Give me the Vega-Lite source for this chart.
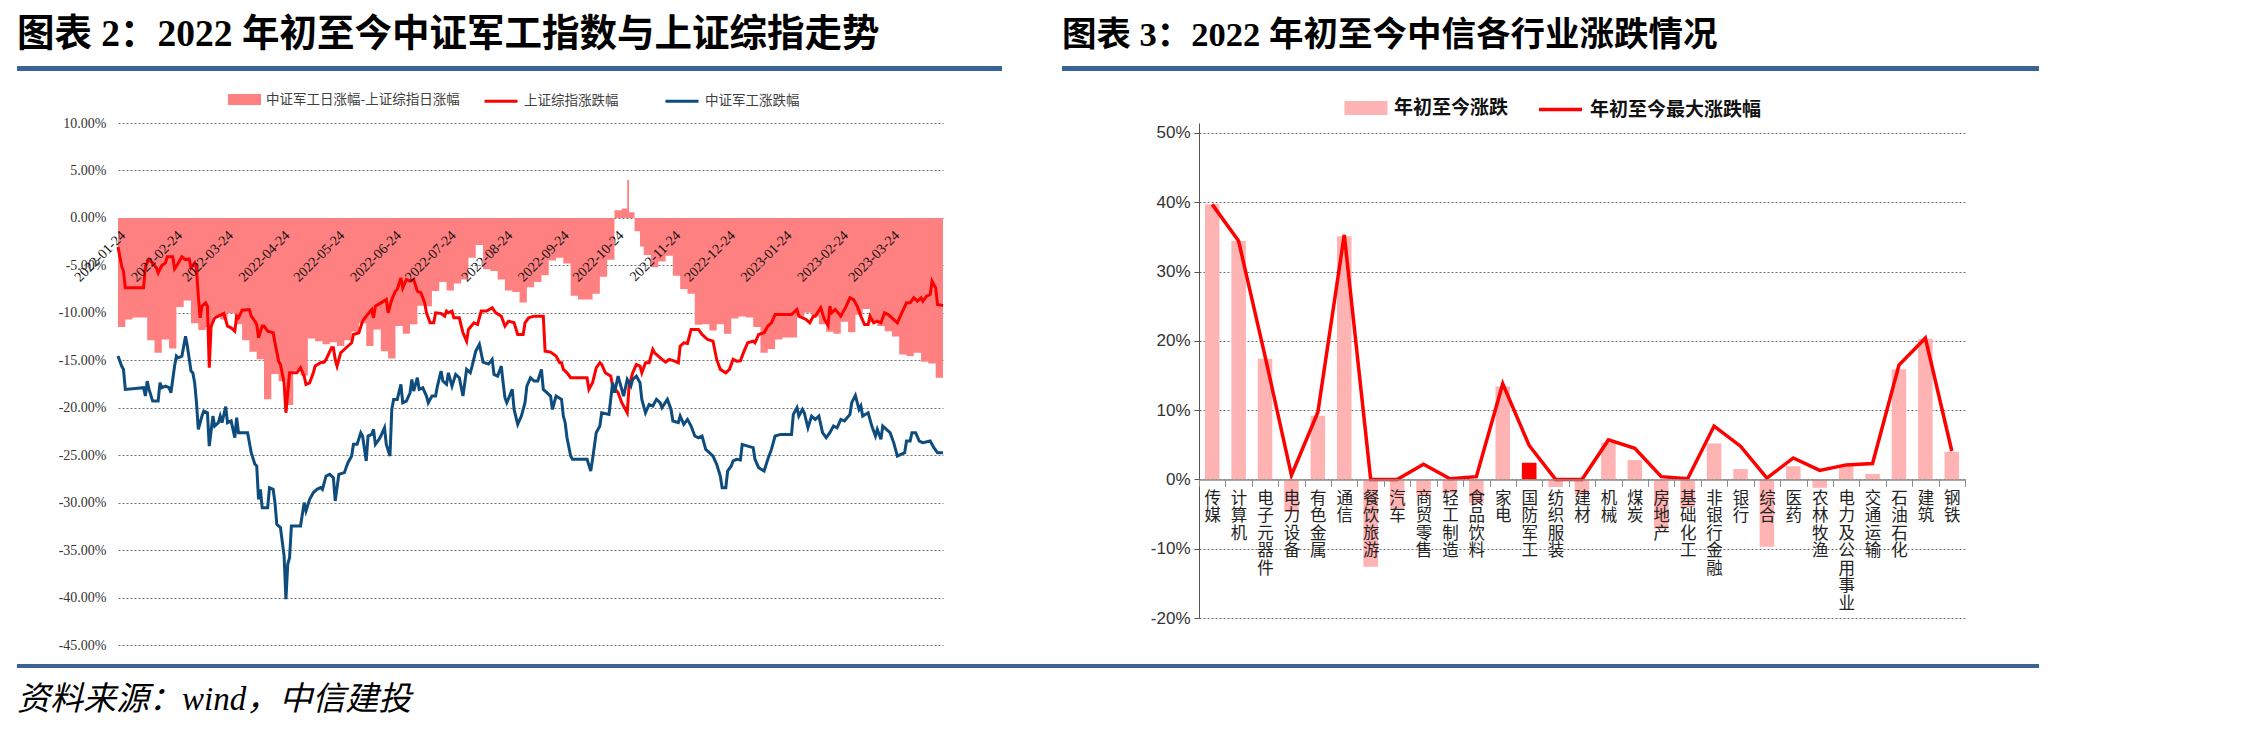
{
  "$schema": "https://vega.github.io/schema/vega-lite/v6.json",
  "background": "white",
  "padding": {"left": 17, "top": 15, "right": 0, "bottom": 0},
  "config": {"view": {"stroke": null}, "font": "Noto Sans CJK SC"},
  "datasets": {
    "sh": [
      {"d":"2022-01-24","v":-3.05},{"d":"2022-01-26","v":-5.09},{"d":"2022-01-27","v":-5.6},{"d":"2022-01-28","v":-7.37},{"d":"2022-02-07","v":-7.37},{"d":"2022-02-08","v":-5.09},{"d":"2022-02-10","v":-4.39},{"d":"2022-02-12","v":-4.74},{"d":"2022-02-14","v":-5.26},{"d":"2022-02-15","v":-5.79},{"d":"2022-02-17","v":-5.02},{"d":"2022-02-19","v":-4.74},{"d":"2022-02-20","v":-4.1},{"d":"2022-02-23","v":-4.1},{"d":"2022-02-24","v":-5.37},{"d":"2022-02-25","v":-5.09},{"d":"2022-02-28","v":-4.1},{"d":"2022-03-02","v":-4.39},{"d":"2022-03-04","v":-4.32},{"d":"2022-03-05","v":-5.26},{"d":"2022-03-07","v":-4.74},{"d":"2022-03-08","v":-5.26},{"d":"2022-03-09","v":-8.25},{"d":"2022-03-10","v":-10.53},{"d":"2022-03-11","v":-9.3},{"d":"2022-03-13","v":-8.95},{"d":"2022-03-14","v":-9.3},{"d":"2022-03-15","v":-15.79},{"d":"2022-03-16","v":-11.4},{"d":"2022-03-18","v":-10.53},{"d":"2022-03-20","v":-10.35},{"d":"2022-03-23","v":-10.07},{"d":"2022-03-25","v":-11.4},{"d":"2022-03-27","v":-11.58},{"d":"2022-03-29","v":-11.93},{"d":"2022-03-30","v":-10.35},{"d":"2022-03-31","v":-10.53},{"d":"2022-04-02","v":-9.72},{"d":"2022-04-06","v":-9.65},{"d":"2022-04-07","v":-10.35},{"d":"2022-04-09","v":-10.88},{"d":"2022-04-10","v":-11.23},{"d":"2022-04-11","v":-12.63},{"d":"2022-04-13","v":-11.4},{"d":"2022-04-14","v":-11.4},{"d":"2022-04-16","v":-11.93},{"d":"2022-04-19","v":-12.1},{"d":"2022-04-20","v":-13.16},{"d":"2022-04-22","v":-15.09},{"d":"2022-04-23","v":-15.44},{"d":"2022-04-25","v":-17.37},{"d":"2022-04-26","v":-20.53},{"d":"2022-04-27","v":-18.42},{"d":"2022-04-28","v":-16.32},{"d":"2022-05-02","v":-16.32},{"d":"2022-05-04","v":-15.79},{"d":"2022-05-06","v":-16.67},{"d":"2022-05-07","v":-17.54},{"d":"2022-05-09","v":-17.37},{"d":"2022-05-11","v":-16.32},{"d":"2022-05-12","v":-15.61},{"d":"2022-05-15","v":-15.26},{"d":"2022-05-17","v":-15.19},{"d":"2022-05-18","v":-14.91},{"d":"2022-05-21","v":-13.68},{"d":"2022-05-22","v":-13.68},{"d":"2022-05-23","v":-14.91},{"d":"2022-05-24","v":-15.61},{"d":"2022-05-26","v":-14.21},{"d":"2022-05-29","v":-13.68},{"d":"2022-06-01","v":-13.16},{"d":"2022-06-02","v":-12.28},{"d":"2022-06-05","v":-12.1},{"d":"2022-06-07","v":-10.88},{"d":"2022-06-09","v":-10.35},{"d":"2022-06-12","v":-9.65},{"d":"2022-06-13","v":-10.53},{"d":"2022-06-14","v":-9.3},{"d":"2022-06-17","v":-8.95},{"d":"2022-06-20","v":-8.6},{"d":"2022-06-21","v":-10},{"d":"2022-06-23","v":-8.6},{"d":"2022-06-25","v":-7.72},{"d":"2022-06-26","v":-7.54},{"d":"2022-06-28","v":-6.32},{"d":"2022-06-29","v":-7.37},{"d":"2022-07-01","v":-6.49},{"d":"2022-07-03","v":-6.67},{"d":"2022-07-05","v":-6.49},{"d":"2022-07-07","v":-7.72},{"d":"2022-07-09","v":-7.89},{"d":"2022-07-11","v":-8.95},{"d":"2022-07-12","v":-10},{"d":"2022-07-14","v":-11.05},{"d":"2022-07-16","v":-11.05},{"d":"2022-07-17","v":-10},{"d":"2022-07-20","v":-10.07},{"d":"2022-07-22","v":-10.35},{"d":"2022-07-23","v":-9.82},{"d":"2022-07-24","v":-10},{"d":"2022-07-26","v":-9.82},{"d":"2022-07-27","v":-10.53},{"d":"2022-07-30","v":-10.53},{"d":"2022-08-01","v":-12.1},{"d":"2022-08-03","v":-12.98},{"d":"2022-08-04","v":-11.75},{"d":"2022-08-07","v":-11.05},{"d":"2022-08-09","v":-11.23},{"d":"2022-08-11","v":-9.82},{"d":"2022-08-14","v":-9.82},{"d":"2022-08-17","v":-9.47},{"d":"2022-08-19","v":-10},{"d":"2022-08-22","v":-10.35},{"d":"2022-08-24","v":-11.4},{"d":"2022-08-26","v":-10.88},{"d":"2022-08-29","v":-11.05},{"d":"2022-08-31","v":-12.28},{"d":"2022-09-03","v":-12.28},{"d":"2022-09-04","v":-11.05},{"d":"2022-09-06","v":-10.53},{"d":"2022-09-09","v":-10.35},{"d":"2022-09-14","v":-10.35},{"d":"2022-09-15","v":-14.04},{"d":"2022-09-18","v":-14.14},{"d":"2022-09-21","v":-14.56},{"d":"2022-09-23","v":-15.26},{"d":"2022-09-24","v":-15.26},{"d":"2022-09-25","v":-15.96},{"d":"2022-09-27","v":-16.32},{"d":"2022-09-29","v":-16.84},{"d":"2022-10-08","v":-16.84},{"d":"2022-10-09","v":-18.07},{"d":"2022-10-11","v":-17.37},{"d":"2022-10-13","v":-15.79},{"d":"2022-10-15","v":-15.26},{"d":"2022-10-16","v":-15.44},{"d":"2022-10-18","v":-16.32},{"d":"2022-10-21","v":-16.67},{"d":"2022-10-22","v":-17.72},{"d":"2022-10-25","v":-18.42},{"d":"2022-10-27","v":-19.47},{"d":"2022-10-28","v":-19.82},{"d":"2022-10-30","v":-20.53},{"d":"2022-10-31","v":-17.72},{"d":"2022-11-02","v":-16.32},{"d":"2022-11-04","v":-15.44},{"d":"2022-11-06","v":-15.61},{"d":"2022-11-07","v":-16.32},{"d":"2022-11-09","v":-15.26},{"d":"2022-11-11","v":-15.26},{"d":"2022-11-13","v":-13.86},{"d":"2022-11-14","v":-14.21},{"d":"2022-11-16","v":-14.56},{"d":"2022-11-18","v":-14.91},{"d":"2022-11-20","v":-15.19},{"d":"2022-11-22","v":-14.91},{"d":"2022-11-25","v":-15.09},{"d":"2022-11-27","v":-15.26},{"d":"2022-11-28","v":-13.51},{"d":"2022-11-30","v":-13.16},{"d":"2022-12-02","v":-13.23},{"d":"2022-12-04","v":-11.75},{"d":"2022-12-08","v":-11.75},{"d":"2022-12-10","v":-12.28},{"d":"2022-12-13","v":-12.81},{"d":"2022-12-16","v":-12.98},{"d":"2022-12-18","v":-14.91},{"d":"2022-12-20","v":-15.96},{"d":"2022-12-23","v":-16.32},{"d":"2022-12-25","v":-15.96},{"d":"2022-12-27","v":-14.91},{"d":"2022-12-29","v":-15.09},{"d":"2022-12-31","v":-15.05},{"d":"2023-01-02","v":-14.04},{"d":"2023-01-04","v":-13.16},{"d":"2023-01-07","v":-12.98},{"d":"2023-01-08","v":-13.16},{"d":"2023-01-10","v":-12.28},{"d":"2023-01-13","v":-12.1},{"d":"2023-01-15","v":-11.4},{"d":"2023-01-17","v":-11.05},{"d":"2023-01-19","v":-10.18},{"d":"2023-01-28","v":-10.18},{"d":"2023-01-30","v":-9.82},{"d":"2023-01-31","v":-9.65},{"d":"2023-02-01","v":-10.35},{"d":"2023-02-05","v":-10.7},{"d":"2023-02-07","v":-11.05},{"d":"2023-02-09","v":-10.35},{"d":"2023-02-10","v":-10.35},{"d":"2023-02-13","v":-9.47},{"d":"2023-02-15","v":-10.7},{"d":"2023-02-17","v":-11.33},{"d":"2023-02-18","v":-9.3},{"d":"2023-02-19","v":-10},{"d":"2023-02-21","v":-9.65},{"d":"2023-02-24","v":-10.35},{"d":"2023-02-27","v":-9.3},{"d":"2023-03-01","v":-8.42},{"d":"2023-03-03","v":-8.6},{"d":"2023-03-05","v":-9.3},{"d":"2023-03-07","v":-10.35},{"d":"2023-03-09","v":-11.23},{"d":"2023-03-11","v":-11.23},{"d":"2023-03-12","v":-10.35},{"d":"2023-03-14","v":-11.05},{"d":"2023-03-16","v":-10.88},{"d":"2023-03-18","v":-11.05},{"d":"2023-03-20","v":-10},{"d":"2023-03-22","v":-10.18},{"d":"2023-03-24","v":-10.53},{"d":"2023-03-27","v":-11.05},{"d":"2023-03-29","v":-10.18},{"d":"2023-04-01","v":-8.95},{"d":"2023-04-03","v":-8.95},{"d":"2023-04-05","v":-8.42},{"d":"2023-04-07","v":-8.77},{"d":"2023-04-09","v":-8.42},{"d":"2023-04-10","v":-8.77},{"d":"2023-04-12","v":-8.25},{"d":"2023-04-14","v":-8.07},{"d":"2023-04-15","v":-6.67},{"d":"2023-04-17","v":-7.37},{"d":"2023-04-18","v":-9.12},{"d":"2023-04-21","v":-9.23}
    ],
    "jg": [
      {"d":"2022-01-24","v":-14.56},{"d":"2022-01-26","v":-15.61},{"d":"2022-01-27","v":-15.96},{"d":"2022-01-28","v":-18.07},{"d":"2022-02-07","v":-17.89},{"d":"2022-02-08","v":-18.77},{"d":"2022-02-09","v":-17.19},{"d":"2022-02-10","v":-18.07},{"d":"2022-02-12","v":-19.3},{"d":"2022-02-15","v":-19.3},{"d":"2022-02-16","v":-17.37},{"d":"2022-02-17","v":-17.89},{"d":"2022-02-19","v":-17.72},{"d":"2022-02-21","v":-17.89},{"d":"2022-02-22","v":-18.42},{"d":"2022-02-24","v":-15.61},{"d":"2022-02-25","v":-14.56},{"d":"2022-02-26","v":-14.74},{"d":"2022-02-28","v":-14.56},{"d":"2022-03-02","v":-12.46},{"d":"2022-03-03","v":-13.51},{"d":"2022-03-05","v":-16.14},{"d":"2022-03-06","v":-16.32},{"d":"2022-03-07","v":-17.37},{"d":"2022-03-08","v":-19.47},{"d":"2022-03-09","v":-22.28},{"d":"2022-03-11","v":-20.88},{"d":"2022-03-12","v":-20.35},{"d":"2022-03-14","v":-20.53},{"d":"2022-03-15","v":-24.04},{"d":"2022-03-17","v":-20.88},{"d":"2022-03-18","v":-21.93},{"d":"2022-03-20","v":-21.58},{"d":"2022-03-21","v":-20.88},{"d":"2022-03-22","v":-21.58},{"d":"2022-03-24","v":-19.89},{"d":"2022-03-25","v":-21.58},{"d":"2022-03-27","v":-21.4},{"d":"2022-03-28","v":-22.28},{"d":"2022-03-29","v":-23.16},{"d":"2022-03-30","v":-21.05},{"d":"2022-03-31","v":-22.63},{"d":"2022-04-05","v":-22.63},{"d":"2022-04-07","v":-24.74},{"d":"2022-04-09","v":-25.96},{"d":"2022-04-10","v":-26.14},{"d":"2022-04-11","v":-29.65},{"d":"2022-04-12","v":-28.6},{"d":"2022-04-13","v":-30.53},{"d":"2022-04-16","v":-30.53},{"d":"2022-04-17","v":-28.42},{"d":"2022-04-19","v":-28.6},{"d":"2022-04-20","v":-30},{"d":"2022-04-21","v":-32.28},{"d":"2022-04-23","v":-32.63},{"d":"2022-04-25","v":-35.61},{"d":"2022-04-26","v":-40.18},{"d":"2022-04-27","v":-36.49},{"d":"2022-04-28","v":-35.79},{"d":"2022-04-29","v":-32.46},{"d":"2022-05-04","v":-32.46},{"d":"2022-05-06","v":-30},{"d":"2022-05-07","v":-30.88},{"d":"2022-05-09","v":-29.65},{"d":"2022-05-11","v":-28.95},{"d":"2022-05-13","v":-28.6},{"d":"2022-05-15","v":-28.42},{"d":"2022-05-16","v":-28.6},{"d":"2022-05-18","v":-27.19},{"d":"2022-05-20","v":-27.02},{"d":"2022-05-22","v":-27.37},{"d":"2022-05-23","v":-29.82},{"d":"2022-05-25","v":-27.02},{"d":"2022-05-28","v":-26.84},{"d":"2022-05-30","v":-25.79},{"d":"2022-06-01","v":-25.09},{"d":"2022-06-02","v":-23.86},{"d":"2022-06-04","v":-23.86},{"d":"2022-06-06","v":-22.63},{"d":"2022-06-07","v":-22.98},{"d":"2022-06-09","v":-25.61},{"d":"2022-06-10","v":-22.98},{"d":"2022-06-12","v":-22.81},{"d":"2022-06-13","v":-22.28},{"d":"2022-06-14","v":-23.86},{"d":"2022-06-16","v":-23.33},{"d":"2022-06-17","v":-22.98},{"d":"2022-06-19","v":-22.11},{"d":"2022-06-20","v":-23.86},{"d":"2022-06-22","v":-25.09},{"d":"2022-06-23","v":-20.18},{"d":"2022-06-24","v":-19.12},{"d":"2022-06-26","v":-19.12},{"d":"2022-06-28","v":-17.54},{"d":"2022-06-29","v":-19.47},{"d":"2022-07-01","v":-19.3},{"d":"2022-07-03","v":-18.42},{"d":"2022-07-04","v":-17.02},{"d":"2022-07-05","v":-18.25},{"d":"2022-07-07","v":-16.84},{"d":"2022-07-08","v":-18.07},{"d":"2022-07-10","v":-17.9},{"d":"2022-07-12","v":-18.77},{"d":"2022-07-13","v":-19.47},{"d":"2022-07-15","v":-18.77},{"d":"2022-07-17","v":-18.77},{"d":"2022-07-18","v":-17.72},{"d":"2022-07-20","v":-16.14},{"d":"2022-07-21","v":-17.19},{"d":"2022-07-23","v":-17.54},{"d":"2022-07-24","v":-16.32},{"d":"2022-07-26","v":-17.72},{"d":"2022-07-28","v":-16.49},{"d":"2022-07-30","v":-16.84},{"d":"2022-08-01","v":-18.77},{"d":"2022-08-02","v":-17.37},{"d":"2022-08-03","v":-15.96},{"d":"2022-08-05","v":-16.32},{"d":"2022-08-06","v":-15.61},{"d":"2022-08-08","v":-14.04},{"d":"2022-08-10","v":-13.33},{"d":"2022-08-12","v":-15.19},{"d":"2022-08-15","v":-15.4},{"d":"2022-08-17","v":-14.91},{"d":"2022-08-18","v":-16.49},{"d":"2022-08-20","v":-16.67},{"d":"2022-08-22","v":-15.61},{"d":"2022-08-23","v":-17.37},{"d":"2022-08-24","v":-18.95},{"d":"2022-08-25","v":-19.47},{"d":"2022-08-28","v":-18.07},{"d":"2022-08-29","v":-20.18},{"d":"2022-08-31","v":-21.75},{"d":"2022-09-02","v":-20.88},{"d":"2022-09-04","v":-19.47},{"d":"2022-09-05","v":-17.72},{"d":"2022-09-07","v":-16.84},{"d":"2022-09-09","v":-17.19},{"d":"2022-09-11","v":-17.19},{"d":"2022-09-13","v":-15.96},{"d":"2022-09-14","v":-18.07},{"d":"2022-09-16","v":-18.42},{"d":"2022-09-18","v":-18.77},{"d":"2022-09-19","v":-20.18},{"d":"2022-09-21","v":-18.77},{"d":"2022-09-24","v":-19.12},{"d":"2022-09-25","v":-20.88},{"d":"2022-09-26","v":-21.58},{"d":"2022-09-27","v":-23.16},{"d":"2022-09-29","v":-25.09},{"d":"2022-09-30","v":-25.44},{"d":"2022-10-08","v":-25.44},{"d":"2022-10-10","v":-26.67},{"d":"2022-10-11","v":-25.44},{"d":"2022-10-13","v":-22.63},{"d":"2022-10-15","v":-21.93},{"d":"2022-10-16","v":-20.53},{"d":"2022-10-20","v":-20.7},{"d":"2022-10-22","v":-17.37},{"d":"2022-10-23","v":-18.42},{"d":"2022-10-25","v":-16.67},{"d":"2022-10-27","v":-18.07},{"d":"2022-10-28","v":-18.77},{"d":"2022-10-30","v":-17.02},{"d":"2022-11-01","v":-17.72},{"d":"2022-11-02","v":-17.02},{"d":"2022-11-04","v":-16.67},{"d":"2022-11-06","v":-17.37},{"d":"2022-11-07","v":-19.12},{"d":"2022-11-09","v":-20.53},{"d":"2022-11-11","v":-19.65},{"d":"2022-11-13","v":-19.82},{"d":"2022-11-15","v":-19.12},{"d":"2022-11-17","v":-19.47},{"d":"2022-11-18","v":-20},{"d":"2022-11-21","v":-19.12},{"d":"2022-11-23","v":-20.18},{"d":"2022-11-24","v":-21.4},{"d":"2022-11-27","v":-21.58},{"d":"2022-11-28","v":-20.88},{"d":"2022-11-30","v":-21.75},{"d":"2022-12-02","v":-21.23},{"d":"2022-12-04","v":-21.93},{"d":"2022-12-06","v":-22.98},{"d":"2022-12-08","v":-23.16},{"d":"2022-12-10","v":-22.98},{"d":"2022-12-11","v":-23.68},{"d":"2022-12-12","v":-24.39},{"d":"2022-12-14","v":-24.74},{"d":"2022-12-16","v":-25.09},{"d":"2022-12-18","v":-25.96},{"d":"2022-12-20","v":-27.19},{"d":"2022-12-21","v":-28.42},{"d":"2022-12-23","v":-28.42},{"d":"2022-12-24","v":-26.67},{"d":"2022-12-26","v":-26.14},{"d":"2022-12-27","v":-25.61},{"d":"2022-12-29","v":-25.44},{"d":"2022-12-31","v":-25.5},{"d":"2023-01-01","v":-23.86},{"d":"2023-01-04","v":-24.04},{"d":"2023-01-07","v":-24.21},{"d":"2023-01-08","v":-25.44},{"d":"2023-01-10","v":-26.32},{"d":"2023-01-13","v":-26.67},{"d":"2023-01-15","v":-25.44},{"d":"2023-01-17","v":-24.39},{"d":"2023-01-19","v":-22.98},{"d":"2023-01-22","v":-22.81},{"d":"2023-01-28","v":-22.81},{"d":"2023-01-29","v":-20.7},{"d":"2023-01-31","v":-20},{"d":"2023-02-01","v":-20.88},{"d":"2023-02-03","v":-20.18},{"d":"2023-02-04","v":-20.53},{"d":"2023-02-06","v":-22.11},{"d":"2023-02-08","v":-20.88},{"d":"2023-02-10","v":-21.23},{"d":"2023-02-12","v":-20.88},{"d":"2023-02-14","v":-22.63},{"d":"2023-02-16","v":-23.16},{"d":"2023-02-18","v":-22.63},{"d":"2023-02-20","v":-21.93},{"d":"2023-02-22","v":-22.11},{"d":"2023-02-24","v":-21.23},{"d":"2023-02-26","v":-21.4},{"d":"2023-03-01","v":-20.7},{"d":"2023-03-02","v":-19.47},{"d":"2023-03-04","v":-18.7},{"d":"2023-03-06","v":-20.18},{"d":"2023-03-07","v":-19.82},{"d":"2023-03-08","v":-20.88},{"d":"2023-03-11","v":-20.53},{"d":"2023-03-13","v":-21.93},{"d":"2023-03-15","v":-22.98},{"d":"2023-03-16","v":-22.28},{"d":"2023-03-18","v":-23.33},{"d":"2023-03-19","v":-21.93},{"d":"2023-03-21","v":-22.28},{"d":"2023-03-23","v":-22.63},{"d":"2023-03-25","v":-23.68},{"d":"2023-03-27","v":-25.09},{"d":"2023-03-29","v":-24.91},{"d":"2023-03-31","v":-24.74},{"d":"2023-04-01","v":-23.51},{"d":"2023-04-03","v":-23.51},{"d":"2023-04-04","v":-22.63},{"d":"2023-04-06","v":-22.63},{"d":"2023-04-08","v":-23.51},{"d":"2023-04-10","v":-23.68},{"d":"2023-04-14","v":-23.51},{"d":"2023-04-16","v":-24.21},{"d":"2023-04-18","v":-24.74},{"d":"2023-04-21","v":-24.74}
    ],
    "diff": [
      {"d":"2022-01-24","v":-11.5},{"d":"2022-01-28","v":-10.7},{"d":"2022-02-01","v":-10.5},{"d":"2022-02-05","v":-10.5},{"d":"2022-02-09","v":-12.9},{"d":"2022-02-13","v":-14.2},{"d":"2022-02-17","v":-12.8},{"d":"2022-02-21","v":-13.75},{"d":"2022-02-25","v":-9.4},{"d":"2022-03-01","v":-8.7},{"d":"2022-03-05","v":-11.1},{"d":"2022-03-09","v":-11.8},{"d":"2022-03-13","v":-11.5},{"d":"2022-03-17","v":-10.3},{"d":"2022-03-21","v":-10.7},{"d":"2022-03-25","v":-10.05},{"d":"2022-03-29","v":-11.2},{"d":"2022-04-02","v":-12.9},{"d":"2022-04-06","v":-14.1},{"d":"2022-04-10","v":-14.9},{"d":"2022-04-14","v":-19.1},{"d":"2022-04-18","v":-16.45},{"d":"2022-04-22","v":-17.2},{"d":"2022-04-26","v":-19.7},{"d":"2022-04-30","v":-16.1},{"d":"2022-05-04","v":-16.6},{"d":"2022-05-08","v":-12.7},{"d":"2022-05-12","v":-13.0},{"d":"2022-05-16","v":-13.3},{"d":"2022-05-20","v":-13.1},{"d":"2022-05-24","v":-13.5},{"d":"2022-05-28","v":-12.9},{"d":"2022-06-01","v":-12.0},{"d":"2022-06-05","v":-11.1},{"d":"2022-06-09","v":-13.5},{"d":"2022-06-13","v":-11.75},{"d":"2022-06-17","v":-14.05},{"d":"2022-06-21","v":-14.8},{"d":"2022-06-25","v":-11.4},{"d":"2022-06-29","v":-12.2},{"d":"2022-07-03","v":-11.2},{"d":"2022-07-07","v":-9.25},{"d":"2022-07-11","v":-9.3},{"d":"2022-07-15","v":-7.7},{"d":"2022-07-19","v":-6.75},{"d":"2022-07-23","v":-7.65},{"d":"2022-07-27","v":-6.9},{"d":"2022-07-31","v":-6.5},{"d":"2022-08-04","v":-4.2},{"d":"2022-08-08","v":-2.85},{"d":"2022-08-12","v":-5.4},{"d":"2022-08-16","v":-5.6},{"d":"2022-08-20","v":-6.5},{"d":"2022-08-24","v":-7.65},{"d":"2022-08-28","v":-7.8},{"d":"2022-09-01","v":-8.9},{"d":"2022-09-05","v":-7.3},{"d":"2022-09-09","v":-6.75},{"d":"2022-09-13","v":-6.05},{"d":"2022-09-17","v":-4.5},{"d":"2022-09-21","v":-4.2},{"d":"2022-09-25","v":-4.8},{"d":"2022-09-29","v":-8.2},{"d":"2022-10-03","v":-8.6},{"d":"2022-10-07","v":-8.6},{"d":"2022-10-11","v":-8.0},{"d":"2022-10-15","v":-6.2},{"d":"2022-10-19","v":-4.4},{"d":"2022-10-23","v":0.8},{"d":"2022-10-27","v":1.0},{"d":"2022-10-30","v":4.0},{"d":"2022-10-31","v":0.6},{"d":"2022-11-03","v":-1.4},{"d":"2022-11-06","v":-3.0},{"d":"2022-11-08","v":-3.9},{"d":"2022-11-12","v":-5.2},{"d":"2022-11-16","v":-4.6},{"d":"2022-11-20","v":-4.0},{"d":"2022-11-24","v":-6.1},{"d":"2022-11-28","v":-7.5},{"d":"2022-12-02","v":-8.0},{"d":"2022-12-06","v":-11.25},{"d":"2022-12-10","v":-11.2},{"d":"2022-12-14","v":-11.85},{"d":"2022-12-18","v":-11.2},{"d":"2022-12-22","v":-12.2},{"d":"2022-12-26","v":-10.6},{"d":"2022-12-30","v":-10.4},{"d":"2023-01-03","v":-10.5},{"d":"2023-01-07","v":-11.5},{"d":"2023-01-11","v":-14.2},{"d":"2023-01-15","v":-13.8},{"d":"2023-01-19","v":-12.8},{"d":"2023-01-23","v":-12.6},{"d":"2023-01-27","v":-12.6},{"d":"2023-01-31","v":-10.4},{"d":"2023-02-04","v":-10.0},{"d":"2023-02-08","v":-10.4},{"d":"2023-02-12","v":-11.2},{"d":"2023-02-16","v":-12.0},{"d":"2023-02-20","v":-12.2},{"d":"2023-02-24","v":-10.95},{"d":"2023-02-28","v":-12.05},{"d":"2023-03-04","v":-10.2},{"d":"2023-03-08","v":-9.6},{"d":"2023-03-12","v":-11.0},{"d":"2023-03-16","v":-11.4},{"d":"2023-03-20","v":-11.95},{"d":"2023-03-24","v":-12.5},{"d":"2023-03-28","v":-14.4},{"d":"2023-04-01","v":-14.55},{"d":"2023-04-05","v":-14.2},{"d":"2023-04-09","v":-15.15},{"d":"2023-04-13","v":-15.35},{"d":"2023-04-17","v":-16.85},{"d":"2023-04-21","v":-15.5}
    ],
    "ind": [
      {"name":"传媒","ytd":39.7,"max":39.7},{"name":"计算机","ytd":34.4,"max":34.4},{"name":"电子元器件","ytd":17.4,"max":17.8},{"name":"电力设备","ytd":-4.7,"max":0.6},{"name":"有色金属","ytd":9.2,"max":9.7},{"name":"通信","ytd":35.1,"max":35.3},{"name":"餐饮旅游","ytd":-12.6,"max":0},{"name":"汽车","ytd":-4.2,"max":0},{"name":"商贸零售","ytd":-2.3,"max":2.2},{"name":"轻工制造","ytd":-2.0,"max":0.1},{"name":"食品饮料","ytd":-3.4,"max":0.4},{"name":"家电","ytd":13.4,"max":13.8},{"name":"国防军工","ytd":2.4,"max":4.9},{"name":"纺织服装","ytd":-1.1,"max":0},{"name":"建材","ytd":-2.2,"max":0},{"name":"机械","ytd":5.3,"max":5.7},{"name":"煤炭","ytd":2.8,"max":4.5},{"name":"房地产","ytd":-7.1,"max":0.4},{"name":"基础化工","ytd":-4.0,"max":0.1},{"name":"非银行金融","ytd":5.2,"max":7.7},{"name":"银行","ytd":1.5,"max":4.8},{"name":"综合","ytd":-9.7,"max":0.2},{"name":"医药","ytd":1.9,"max":3.1},{"name":"农林牧渔","ytd":-1.2,"max":1.3},{"name":"电力及公用事业","ytd":1.9,"max":2.1},{"name":"交通运输","ytd":0.8,"max":2.3},{"name":"石油石化","ytd":15.9,"max":16.5},{"name":"建筑","ytd":20.3,"max":20.4},{"name":"钢铁","ytd":4.0,"max":4.1}
    ]
  },
  "concat": [
    {
      "hconcat": [
        {
          "width": 985, "height": 5,
          "title": {"text": "图表 2：2022 年初至今中证军工指数与上证综指走势", "anchor": "start", "fontSize": 37.5, "fontWeight": "bold", "font": "Liberation Serif, Noto Sans CJK SC", "color": "#000000", "offset": 13},
          "view": {"fill": "#3A6496", "stroke": null},
          "data": {"values": [{"k": 0}]},
          "mark": {"type": "point", "opacity": 0, "size": 0, "strokeWidth": 0},
          "encoding": {}
        },
        {
          "width": 977, "height": 5,
          "title": {"text": "图表 3：2022 年初至今中信各行业涨跌情况", "anchor": "start", "fontSize": 34.5, "fontWeight": "bold", "font": "Liberation Serif, Noto Sans CJK SC", "color": "#000000", "offset": 13},
          "view": {"fill": "#3A6496", "stroke": null},
          "data": {"values": [{"k": 0}]},
          "mark": {"type": "point", "opacity": 0, "size": 0, "strokeWidth": 0},
          "encoding": {}
        }
      ],
      "spacing": 60
    },
    {
      "hconcat": [
        {
          "width": 1, "height": 1,
          "data": {"values": [{"k": 0}]},
          "mark": {"type": "point", "opacity": 0, "size": 0, "strokeWidth": 0},
          "encoding": {}
        },
        {
          "hconcat": [
            {
              "width": 825, "height": 522,
              "layer": [
                {
                  "data": {"name": "diff"},
                  "mark": {"type": "area", "interpolate": "step-after", "opacity": 1},
                  "encoding": {
                    "x": {"field": "d", "type": "temporal",
                      "scale": {"type": "utc", "domain": [{"year": 2022, "month": 1, "date": 24, "utc": true}, {"year": 2023, "month": 4, "date": 21, "utc": true}]},
                      "axis": {"title": null, "orient": "bottom", "offset": -427, "zindex": 1, "format": "%Y-%m-%d", "labelAngle": -45, "domain": false, "ticks": false, "grid": false,
                        "labelFont": "Liberation Serif", "labelFontSize": 14, "labelColor": "#111111", "labelPadding": 10, "labelOverlap": false, "labelBound": false, "labelFlush": false,
                        "values": [
                          {"year": 2022, "month": 1, "date": 24, "utc": true}, {"year": 2022, "month": 2, "date": 24, "utc": true}, {"year": 2022, "month": 3, "date": 24, "utc": true},
                          {"year": 2022, "month": 4, "date": 24, "utc": true}, {"year": 2022, "month": 5, "date": 24, "utc": true}, {"year": 2022, "month": 6, "date": 24, "utc": true},
                          {"year": 2022, "month": 7, "date": 24, "utc": true}, {"year": 2022, "month": 8, "date": 24, "utc": true}, {"year": 2022, "month": 9, "date": 24, "utc": true},
                          {"year": 2022, "month": 10, "date": 24, "utc": true}, {"year": 2022, "month": 11, "date": 24, "utc": true}, {"year": 2022, "month": 12, "date": 24, "utc": true},
                          {"year": 2023, "month": 1, "date": 24, "utc": true}, {"year": 2023, "month": 2, "date": 24, "utc": true}, {"year": 2023, "month": 3, "date": 24, "utc": true}
                        ]}},
                    "y": {"field": "v", "type": "quantitative",
                      "scale": {"domain": [-45, 10], "nice": false, "zero": false},
                      "axis": {"title": null, "values": [10, 5, 0, -5, -10, -15, -20, -25, -30, -35, -40, -45],
                        "labelExpr": "(datum.value < 0 ? '-' : '') + format(abs(datum.value), '.2f') + '%'",
                        "domain": false, "ticks": false, "grid": true, "gridColor": "#707070", "gridDash": [2, 2], "gridWidth": 1,
                        "labelFont": "Liberation Serif", "labelFontSize": 14, "labelColor": "#333333", "labelPadding": 12, "minExtent": 100, "maxExtent": 100}},
                    "fill": {"datum": "中证军工日涨幅-上证综指日涨幅", "type": "nominal", "scale": {"range": ["#FF8080"]},
                      "legend": {"orient": "none", "legendX": 110, "legendY": -40, "direction": "horizontal", "title": null,
                        "symbolType": "M-1,-0.33H1V0.33H-1Z", "symbolSize": 1089, "symbolStrokeWidth": 0, "symbolOpacity": 1, "labelLimit": 400,
                        "labelFont": "Noto Sans CJK SC", "labelFontSize": 13.5, "labelColor": "#404040", "labelOffset": 5}}
                  }
                },
                {
                  "data": {"name": "sh"},
                  "mark": {"type": "line", "strokeWidth": 3},
                  "encoding": {
                    "x": {"field": "d", "type": "temporal"},
                    "y": {"field": "v", "type": "quantitative"},
                    "stroke": {"datum": "上证综指涨跌幅", "type": "nominal",
                      "scale": {"domain": ["上证综指涨跌幅", "中证军工涨跌幅"], "range": ["#FF0000", "#0D4C7D"]},
                      "legend": {"orient": "none", "legendX": 365, "legendY": -40, "direction": "horizontal", "title": null,
                        "symbolType": "stroke", "symbolSize": 1089, "symbolStrokeWidth": 3, "columnPadding": 40, "labelLimit": 400,
                        "labelFont": "Noto Sans CJK SC", "labelFontSize": 13.5, "labelColor": "#404040", "labelOffset": 5}}
                  }
                },
                {
                  "data": {"name": "jg"},
                  "mark": {"type": "line", "strokeWidth": 3},
                  "encoding": {
                    "x": {"field": "d", "type": "temporal"},
                    "y": {"field": "v", "type": "quantitative"},
                    "stroke": {"datum": "中证军工涨跌幅", "type": "nominal"}
                  }
                }
              ]
            },
            {
              "width": 766, "height": 495,
              "data": {"name": "ind"},
              "layer": [
                {
                  "mark": {"type": "bar", "width": {"band": 0.55}},
                  "encoding": {
                    "x": {"field": "name", "type": "nominal", "sort": null,
                      "scale": {"paddingInner": 0, "paddingOuter": 0},
                      "axis": {"title": null, "orient": "bottom", "offset": -138.6, "zindex": 1, "labelAngle": 0, "labelExpr": "split(datum.label, '')",
                        "labelBaseline": "top", "labelAlign": "center", "labelLineHeight": 17.5, "labelFontSize": 16.5, "labelFont": "Noto Sans CJK SC", "labelColor": "#222222",
                        "labelPadding": 4, "ticks": true, "tickSize": 7, "tickColor": "#8c8c8c", "tickBand": "extent", "domain": true, "domainColor": "#8c8c8c", "domainWidth": 1.5,
                        "grid": false, "labelOverlap": false, "labelBound": false}},
                    "y": {"field": "ytd", "type": "quantitative",
                      "scale": {"domain": [-20, 51.443], "nice": false},
                      "axis": {"title": null, "values": [-20, -10, 0, 10, 20, 30, 40, 50], "labelExpr": "datum.value + '%'",
                        "domain": true, "domainColor": "#555555", "ticks": true, "tickSize": 5, "tickColor": "#555555",
                        "grid": true, "gridColor": "#707070", "gridDash": [2, 2], "gridWidth": 1,
                        "labelFont": "Liberation Sans", "labelFontSize": 17, "labelColor": "#333333", "labelPadding": 4, "minExtent": 138, "maxExtent": 138}},
                    "fill": {"datum": "年初至今涨跌", "type": "nominal", "scale": {"range": ["#FFB3B3"]},
                      "legend": {"orient": "none", "legendX": 145, "legendY": -37, "direction": "horizontal", "title": null,
                        "symbolType": "M-1,-0.33H1V0.33H-1Z", "symbolSize": 1850, "symbolStrokeWidth": 0, "symbolOpacity": 1, "labelLimit": 400,
                        "labelFont": "Noto Sans CJK SC", "labelFontSize": 19, "labelFontWeight": "bold", "labelColor": "#111111", "labelOffset": 6}}
                  }
                },
                {
                  "transform": [{"filter": "datum.name === '国防军工'"}],
                  "mark": {"type": "bar", "width": {"band": 0.55}, "color": "#FF0000"},
                  "encoding": {
                    "x": {"field": "name", "type": "nominal", "sort": null},
                    "y": {"field": "ytd", "type": "quantitative"}
                  }
                },
                {
                  "mark": {"type": "line", "strokeWidth": 3.5},
                  "encoding": {
                    "x": {"field": "name", "type": "nominal", "sort": null},
                    "y": {"field": "max", "type": "quantitative"},
                    "stroke": {"datum": "年初至今最大涨跌幅", "type": "nominal", "scale": {"range": ["#FF0000"]},
                      "legend": {"orient": "none", "legendX": 338, "legendY": -37, "direction": "horizontal", "title": null,
                        "symbolType": "stroke", "symbolSize": 1850, "symbolStrokeWidth": 3.5, "labelLimit": 400,
                        "labelFont": "Noto Sans CJK SC", "labelFontSize": 19, "labelFontWeight": "bold", "labelColor": "#111111", "labelOffset": 6}}
                  }
                }
              ]
            }
          ],
          "spacing": 112,
          "resolve": {"scale": {"fill": "independent", "stroke": "independent"}, "legend": {"fill": "independent", "stroke": "independent"}}
        }
      ],
      "spacing": 0,
      "resolve": {"scale": {"fill": "independent", "stroke": "independent"}, "legend": {"fill": "independent", "stroke": "independent"}}
    },
    {
      "width": 2022, "height": 4,
      "title": {"text": "资料来源：wind，中信建投", "orient": "bottom", "anchor": "start", "fontSize": 33, "fontStyle": "italic", "fontWeight": "normal", "font": "Liberation Serif, Noto Sans CJK SC", "color": "#000000", "offset": 16},
      "view": {"fill": "#3A6496", "stroke": null},
      "data": {"values": [{"k": 0}]},
      "mark": {"type": "point", "opacity": 0, "size": 0, "strokeWidth": 0},
      "encoding": {}
    }
  ],
  "columns": 1,
  "spacing": 12,
  "resolve": {"scale": {"fill": "independent", "stroke": "independent"}, "legend": {"fill": "independent", "stroke": "independent"}}
}
